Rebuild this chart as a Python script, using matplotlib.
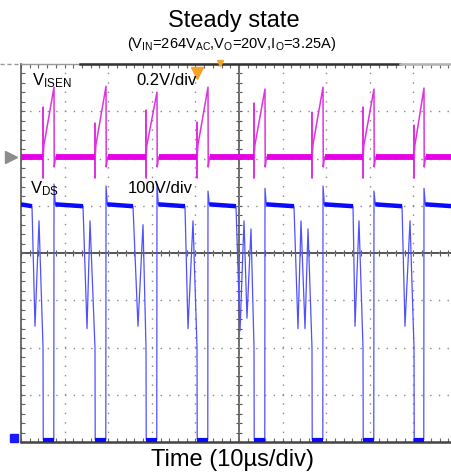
import matplotlib
matplotlib.use('Agg')
import matplotlib.pyplot as plt
import numpy as np

plt.rcParams['font.family'] = ['Liberation Sans', 'DejaVu Sans']
plt.rcParams['mathtext.fontset'] = 'custom'
plt.rcParams['mathtext.rm'] = 'Liberation Sans'
plt.rcParams['mathtext.it'] = 'Liberation Sans:italic'

# ---- values (time in us, voltages in V) ----
on_t = [5.05, 16.97, 28.67, 40.37, 53.44, 66.74, 78.44, 90.14]       # switch turns on
off_t = [7.57, 19.50, 31.19, 42.89, 55.96, 69.27, 80.96, 92.43]      # switch turns off
plat_end_t = [2.52, 14.22, 25.69, 37.61, 49.31, 62.61, 76.15, 87.39]  # VDS plateau ends, ringing starts
ring_t = [[3.21, 4.13], [15.14, 15.83], [26.83, 27.98], [38.30, 39.45],
          [50.23, 51.15, 51.83, 52.75], [63.53, 64.22, 65.14, 65.83],
          [76.61, 77.52], [88.07, 89.22]]
ring_v = [[245, 468], [240, 468], [245, 460], [240, 468],
          [235, 468, 262, 451], [240, 468, 240, 451],
          [245, 468], [245, 468]]
vds_spike = [546, 542, 546, 531, 537, 542, 531, 537]
vds_plateau = [503, 499]
vds_on_level = 200
vds_low = 5

isen_spike_top = [0.212, 0.144, 0.199, 0.148, 0.229, 0.190, 0.212, 0.135]
isen_spike_low = -0.089
isen_ramp_start = 0.05
isen_peak = [0.296, 0.300, 0.275, 0.296, 0.288, 0.296, 0.288, 0.292]
isen_undershoot = -0.042

t_end = 99.0

# scope screen settings
vds_per_div, vds_gnd = 100.0, -4.0
isen_per_div, isen_gnd = 0.2, 2.03
us_per_div = 10.0

# ---- build the traces ----
vt, vv = [0.0], [vds_plateau[0]]
plateau_segs = [(0.0, plat_end_t[0])]
low_segs = []
for i in range(len(on_t)):
    vt += [plat_end_t[i]]; vv += [vds_plateau[1]]
    vt += ring_t[i]; vv += ring_v[i]
    vt += [on_t[i], on_t[i] + 0.05]; vv += [vds_on_level, vds_low]
    vt += [off_t[i] - 0.05, off_t[i], off_t[i] + 0.3]; vv += [vds_low, vds_spike[i], vds_plateau[0]]
    low_segs.append((on_t[i] + 0.05, off_t[i] - 0.05))
    nxt = plat_end_t[i + 1] if i + 1 < len(plat_end_t) else t_end
    plateau_segs.append((off_t[i] + 0.3, nxt))
vt += [t_end]; vv += [vds_plateau[1]]

it, iv = [0.0], [0.0]
base_segs = [(0.0, on_t[0])]
for i in range(len(on_t)):
    it += [on_t[i], on_t[i], on_t[i] + 0.02, on_t[i] + 0.05, on_t[i] + 0.2]
    iv += [0.0, isen_spike_top[i], isen_spike_low, 0.0, isen_ramp_start]
    it += [off_t[i], off_t[i] + 0.05, off_t[i] + 0.35]
    iv += [isen_peak[i], isen_undershoot, 0.0]
    nxt = on_t[i + 1] if i + 1 < len(on_t) else t_end
    base_segs.append((off_t[i] + 0.35, nxt))
it += [t_end]; iv += [0.0]

def xd(t):
    return np.asarray(t) / us_per_div

def vds_d(v):
    return vds_gnd + np.asarray(v) / vds_per_div

def isen_d(v):
    return isen_gnd + np.asarray(v) / isen_per_div

# ---- figure ----
W, H = 452, 475
fig = plt.figure(figsize=(W / 100, H / 100), dpi=100)
ax = fig.add_axes([21 / W, (H - 442) / H, (W - 21) / W, (442 - 64) / H])
ax.set_xlim(0, (W - 21) / 43.6)
ax.set_ylim(-4, 4)

ax.set_xticks(np.arange(0, 10, 1))
ax.set_yticks(np.arange(-4, 5, 1))
ax.set_xticks(np.arange(0, 10, 0.2), minor=True)
ax.set_yticks(np.arange(-4, 4.01, 0.2), minor=True)
ax.tick_params(which='both', direction='in', length=3, width=0.8, color='#666666',
               labelleft=False, labelbottom=False, top=True, right=False)
ax.xaxis.grid(True, which='major', color='#8a8a8a', linewidth=1, linestyle=(0, (1, 5.8)))
ax.yaxis.grid(True, which='major', color='#8a8a8a', linewidth=1, linestyle=(0, (1, 5.26)))
ax.spines['right'].set_visible(False)
ax.spines['left'].set_color('#555555')
ax.spines['left'].set_linewidth(1.2)
ax.spines['bottom'].set_color('#444444')
ax.spines['bottom'].set_linewidth(1.8)
ax.spines['top'].set_color('#9a9a9a')
ax.spines['top'].set_linewidth(1.0)

# centre cross with its small ticks
ax.axhline(0, color='#555555', lw=1.4, zorder=1)
ax.axvline(5, color='#555555', lw=1.2, zorder=1)
xs = np.arange(0, 10, 0.2)
ax.plot(xs, np.zeros_like(xs), ls='none', marker='|', ms=5, mew=0.8, color='#555555', zorder=1)
ys = np.arange(-4, 4.01, 0.2)
ax.plot(np.full_like(ys, 5), ys, ls='none', marker='_', ms=5, mew=0.8, color='#555555', zorder=1)

# top record bar
ax.plot([-0.48, 0], [4, 4], color='#9a9a9a', lw=1.0, ls=(0, (3, 2)), clip_on=False, zorder=5)
ax.plot([1.35, 8.69], [4, 4], color='#333333', lw=1.8, clip_on=False, zorder=5)
ax.plot([8.69, 9.9], [4, 4], color='#b5b5b5', lw=1.8, clip_on=False, zorder=5)
ax.plot([4.04], [3.82], marker='v', ms=8, color='#f3a32a', ls='none', zorder=6)
ax.plot([4.56], [4.03], marker='v', ms=4, color='#f3a32a', ls='none', clip_on=False, zorder=6)

# channel markers
ax.plot([-0.22], [isen_gnd], marker='>', ms=9, color='#8c8c8c', ls='none', clip_on=False)
ax.plot([-0.15], [-3.92], marker='s', ms=6, color='#1a1aff', ls='none', clip_on=False)

# VDS trace
ax.plot(xd(vt), vds_d(vv), color='#5050ff', lw=0.9, zorder=3)
for a, b in plateau_segs:
    ax.plot(xd([a, b]), vds_d(vds_plateau), color='#0a0aff', lw=3.2, zorder=3,
            solid_capstyle='butt')
for a, b in low_segs:
    ax.plot(xd([a, b]), vds_d([vds_low, vds_low]), color='#0a0aff', lw=3.0, zorder=3,
            solid_capstyle='butt')

# VISEN trace
ax.plot(xd(it), isen_d(iv), color='#e033e0', lw=1.1, zorder=4)
for a, b in base_segs:
    ax.plot(xd([a, b]), isen_d([0, 0]), color='#e600e6', lw=4.2, zorder=4,
            solid_capstyle='butt')

# texts
def ftext(px, py, s, **kw):
    fig.text(px / W, 1 - py / H, s, **kw)

ftext(234, 27, 'Steady state', fontsize=17, ha='center', va='baseline')
ftext(232, 48, r'(V$_{\mathrm{IN}}$=264V$_{\mathrm{AC}}$,V$_{\mathrm{O}}$=20V,I$_{\mathrm{O}}$=3.25A)',
      fontsize=10.5, ha='center', va='baseline')
ftext(32, 85, r'V$_{\mathrm{ISEN}}$', fontsize=12, ha='left', va='baseline')
ftext(136, 85, '0.2V/div', fontsize=12, ha='left', va='baseline')
ftext(30, 193, r'V$_{\mathrm{DS}}$', fontsize=12, ha='left', va='baseline')
ftext(128, 193, '100V/div', fontsize=12, ha='left', va='baseline')
ftext(233, 466, 'Time (10\u00b5s/div)', fontsize=17, ha='center', va='baseline')

plt.savefig('out.png', dpi=100)
plt.close(fig)
